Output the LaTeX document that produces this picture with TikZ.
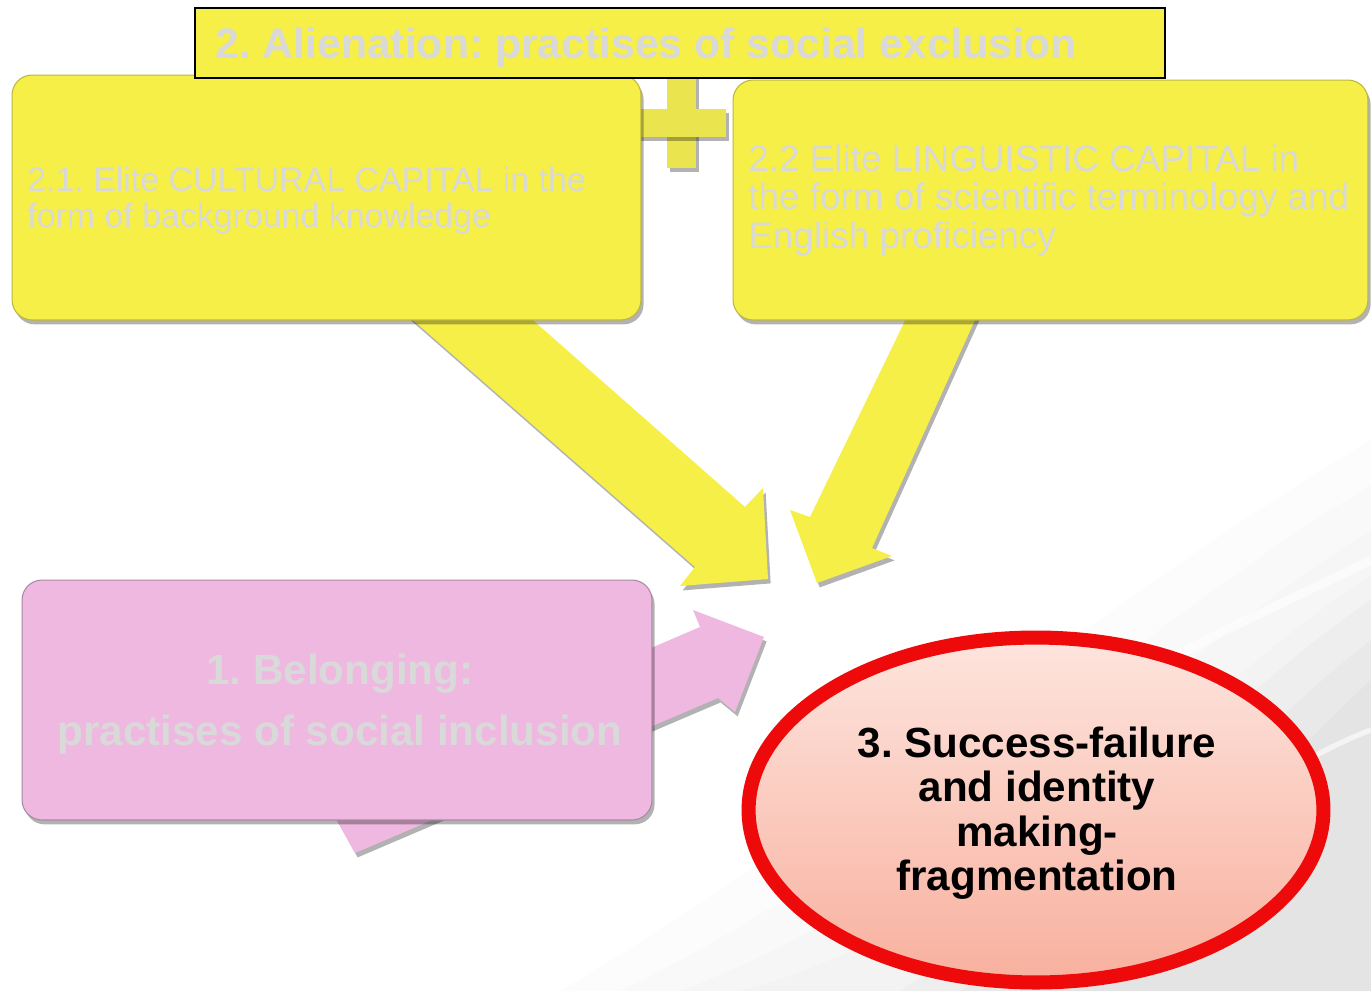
\documentclass[tikz,border=0pt]{standalone}
\usepackage{fontspec}
\setmainfont{Liberation Sans}
\usetikzlibrary{shapes.geometric,shadows}
\definecolor{ylw}{HTML}{F5EF47}
\definecolor{ylwedge}{HTML}{BDB640}
\definecolor{plusc}{HTML}{EAE44E}
\definecolor{pnk}{HTML}{EFB8E0}
\definecolor{pnkedge}{HTML}{A88AA0}
\definecolor{ltxt}{HTML}{D9D9D9}
\definecolor{redring}{HTML}{EE0A0A}
\definecolor{ovtop}{HTML}{FDE5DE}
\definecolor{ovbot}{HTML}{F8B09E}
\frenchspacing
\begin{document}
\begin{tikzpicture}[x=0.02cm,y=-0.02cm,
  shd/.style={drop shadow={shadow xshift=1.5pt,shadow yshift=-2.5pt,opacity=0.3,fill=black}},
  ybox/.style={rectangle,rounded corners=0.4cm,fill=ylw,draw=ylwedge,line width=0.6pt,inner sep=0pt,shd},
  pbox/.style={rectangle,rounded corners=0.4cm,fill=pnk,draw=pnkedge,line width=0.6pt,inner sep=0pt,shd},
  blockarrow/.style={fill=ylw,shd},
  pinkarrow/.style={fill=pnk,shd},
  plusbar/.style={fill=plusc,shd},
  lighttext/.style={text=ltxt,inner sep=0pt}]
\useasboundingbox (0,0) rectangle (1371,991);
\fill[white] (0,0) rectangle (1371,991);
% faint background texture
\foreach \s/\o in {0/0.012,30/0.012,60/0.012,90/0.012}{
  \fill[black,opacity=\o] (560+\s*2,991) .. controls (850+\s*2,820+\s) and (1100+\s,600+\s) .. (1371,440+\s*1.5) -- (1371,991) -- cycle;
}
\foreach \s in {0,40,80}{
  \fill[black,opacity=0.018] (900+\s*1.5,991) .. controls (1100+\s,860+\s*0.5) and (1220+\s*0.5,700+\s) .. (1371,600+\s) -- (1371,991) -- cycle;
}
\draw[white,line width=5pt,opacity=0.6] (1000,760) .. controls (1150,660) and (1250,620) .. (1371,560);
\draw[white,line width=3pt,opacity=0.6] (1100,900) .. controls (1200,830) and (1290,760) .. (1371,730);
% yellow block arrows
\fill[blockarrow] (390,300) -- (695,567) -- (680,586) -- (768,579) -- (763,488) -- (745,507) -- (510,300) -- cycle;
\fill[blockarrow] (915,300) -- (810,517) -- (790,510) -- (817,583) -- (892,556) -- (872,548) -- (984,300) -- cycle;
% pink block arrow
\fill[pinkarrow] (355,853) -- (320,790) -- (700,627) -- (693,610) -- (764,637) -- (735,712) -- (718,698) -- cycle;
% plus sign
\fill[plusbar] (667,60) rectangle (696,168);
\fill[plusbar] (637,109) rectangle (726,137);
% boxes
\node[ybox,minimum width=12.58cm,minimum height=4.9cm] (cult) at (326.5,197.5) {};
\node[ybox,minimum width=12.7cm,minimum height=4.8cm] (ling) at (1050.5,200) {};
\node[pbox,minimum width=12.6cm,minimum height=4.8cm] (belong) at (337,700) {};
\node[rectangle,fill=ylw,draw=black,line width=1pt,inner sep=0pt,minimum width=19.4cm,minimum height=1.4cm] (alien) at (680,43) {};
% texts
\node[lighttext,anchor=base west,font=\fontsize{24.3}{26}\selectfont\bfseries] (alientext) at (215,58) {2. Alienation: practises of social exclusion};
\node[lighttext,anchor=north west,align=left,font=\fontsize{19.3}{20.4}\selectfont] (culttext) at (27,167) {2.1. Elite CULTURAL CAPITAL in the\\form of background knowledge};
\node[lighttext,anchor=north west,align=left,font=\fontsize{21}{21.9}\selectfont] (lingtext) at (748,144) {2.2 Elite LINGUISTIC CAPITAL in\\the form of scientific terminology and\\English proficiency};
\node[lighttext,anchor=north,align=center,font=\fontsize{24}{34.6}\selectfont\bfseries] (belongtext) at (340,654) {1. Belonging:\\practises of social inclusion};
% ellipse
\node[ellipse,draw=redring,line width=8pt,top color=ovtop,bottom color=ovbot,inner sep=0pt,
  minimum width=11.5cm,minimum height=6.9cm,text=black] (success) at (1036,810) {};
\node[align=center,text=black,inner sep=0pt,
  font=\fontsize{24}{25.3}\selectfont\bfseries] (successtext) at (1037,813)
  {3. Success-failure\\and identity\\making-\\fragmentation};
\end{tikzpicture}
\end{document}
